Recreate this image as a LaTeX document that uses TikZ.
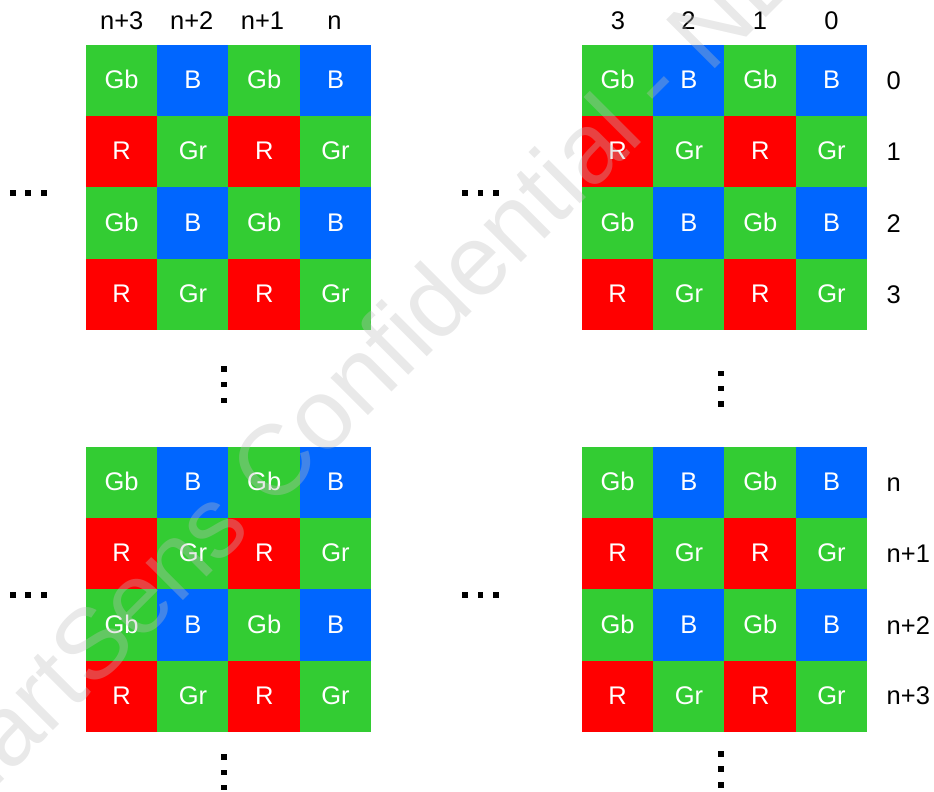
\documentclass[tikz,border=0pt]{standalone}
\usepackage{fontspec}
\setmainfont{Liberation Sans}
\definecolor{bgreen}{RGB}{51,204,51}
\definecolor{bblue}{RGB}{0,102,255}
\definecolor{bred}{RGB}{255,0,0}
\definecolor{wmgray}{RGB}{191,191,191}
\tikzset{
  cellbox/.style={rectangle, draw=none, minimum size=71.6pt, inner sep=0pt, outer sep=0pt},
  celltext/.style={anchor=base, inner sep=0pt, text=white, font=\fontsize{25.5}{30}\selectfont},
  lbl/.style={anchor=base, inner sep=0pt, text=black, font=\fontsize{25.5}{30}\selectfont},
  rowlbl/.style={lbl, anchor=base west},
  dotsq/.style={rectangle, fill=black, draw=none, minimum size=5.6pt, inner sep=0pt},
  watermark/.style={anchor=base, inner sep=0pt, text=wmgray, text opacity=0.35, rotate=45, font=\fontsize{100}{105}\selectfont}
}
\begin{document}
\begin{tikzpicture}[x=1pt,y=-1pt]
\useasboundingbox (0,0) rectangle (934,792);
% grids
\foreach \g/\gx/\gy in {tl/86/45,tr/582/45,bl/86/447,br/582/447}{
  \foreach \r in {0,1,2,3}{
    \foreach \c in {0,1,2,3}{
      \pgfmathtruncatemacro\kind{2*mod(\r,2)+mod(\c,2)}
      \ifcase\kind
        \def\cl{bgreen}\def\tx{Gb}%
      \or \def\cl{bblue}\def\tx{B}%
      \or \def\cl{bred}\def\tx{R}%
      \else \def\cl{bgreen}\def\tx{Gr}%
      \fi
      \node[cellbox, fill=\cl] (\g-\r-\c) at ({\gx+(\c+0.5)*71.3},{\gy+(\r+0.5)*71.3}) {};
      \node[celltext] (\g-\r-\c-t) at ([yshift=-8pt]\g-\r-\c.center) {\tx};
    }
  }
}
% column labels
\node[lbl] (tlc0) at (121.7,30) {n+3};
\node[lbl] (tlc1) at (191.7,30) {n+2};
\node[lbl] (tlc2) at (262.5,30) {n+1};
\node[lbl] (tlc3) at (334.5,30) {n};
\node[lbl] (trc0) at (618,30) {3};
\node[lbl] (trc1) at (688.5,30) {2};
\node[lbl] (trc2) at (760,30) {1};
\node[lbl] (trc3) at (831.5,30) {0};
% row labels
\node[rowlbl] (trr0) at (886.5,89.6) {0};
\node[rowlbl] (trr1) at (886.5,160.9) {1};
\node[rowlbl] (trr2) at (886.5,232.2) {2};
\node[rowlbl] (trr3) at (886.5,303.5) {3};
\node[rowlbl] (brr0) at (886.5,491.6) {n};
\node[rowlbl] (brr1) at (886.5,562.9) {n+1};
\node[rowlbl] (brr2) at (886.5,634.2) {n+2};
\node[rowlbl] (brr3) at (886.5,704.5) {n+3};
% horizontal ellipsis dots
\foreach \n/\dy in {t/192.7,b/595}{
  \foreach \i/\dx in {1/12.7,2/28.2,3/43.7}{
    \node[dotsq] (hl\n\i) at (\dx,\dy) {};
  }
  \foreach \i/\dx in {1/465,2/480.5,3/496}{
    \node[dotsq] (hr\n\i) at (\dx,\dy) {};
  }
}
% vertical ellipsis dots
\foreach \i/\dy in {1/368.8,2/384.6,3/400.3}{\node[dotsq] (vtl\i) at (224,\dy) {};}
\foreach \i/\dy in {1/373.3,2/388.6,3/404}{\node[dotsq] (vtr\i) at (721,\dy) {};}
\foreach \i/\dy in {1/757,2/772.3,3/787.6}{\node[dotsq] (vbl\i) at (224,\dy) {};}
\foreach \i/\dy in {1/754,2/769.2,3/784.8}{\node[dotsq] (vbr\i) at (721,\dy) {};}
% watermark
\begin{scope}
\clip (0,0) rectangle (934,792);
\node[watermark] (wm) at (381,403) {SmartSens Confidential - NDA};
\end{scope}
\end{tikzpicture}
\end{document}
